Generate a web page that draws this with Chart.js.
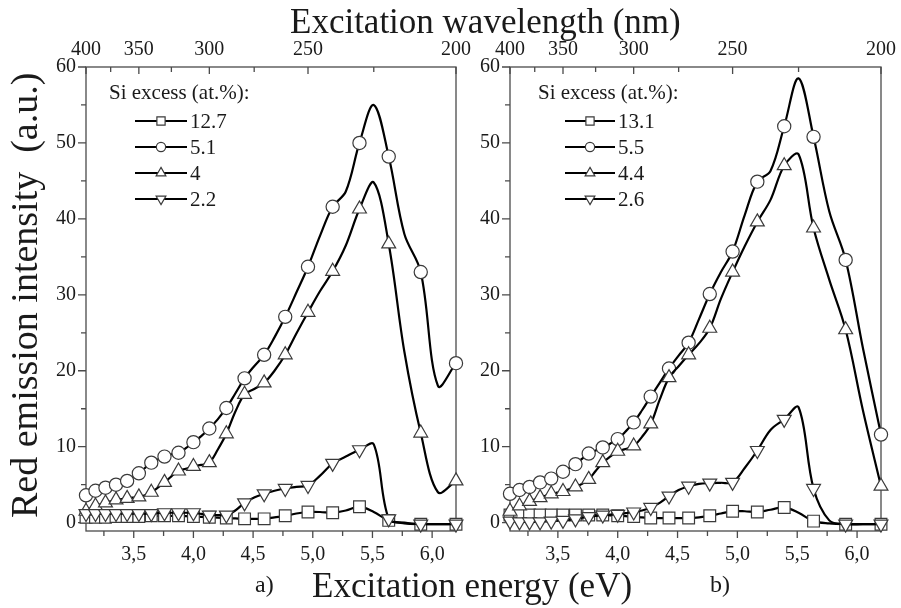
<!DOCTYPE html>
<html>
<head>
<meta charset="utf-8">
<title>Red emission intensity vs excitation energy</title>
<script src="https://cdn.jsdelivr.net/npm/chart.js@4.4.1/dist/chart.umd.min.js"></script>
<style>
    html, body { margin: 0; padding: 0; background: #fff; }
    #page { position: relative; width: 901px; height: 608px; overflow: hidden;
            font-family: "Liberation Serif", "Times New Roman", serif; color: #1a1a1a; }
    #page canvas { position: absolute; top: 0; }
    .label { position: absolute; white-space: pre; line-height: 1; }
</style>
</head>
<body>
<div id="page">
    <canvas id="chartA" width="476" height="608" style="left:0px"></canvas>
    <canvas id="chartB" width="425" height="608" style="left:476px"></canvas>
    <div class="label" style="left:290px; top:4px; font-size:35px;">Excitation wavelength (nm)</div>
    <div class="label" style="left:312px; top:568px; font-size:35px;">Excitation energy (eV)</div>
    <div class="label" style="left:255px; top:572px; font-size:24px;">a)</div>
    <div class="label" style="left:710px; top:572px; font-size:24px;">b)</div>
    <div class="label" style="left:5px; top:518px; font-size:38px; transform-origin:0 0; transform:rotate(-90deg);">Red emission intensity  (a.u.)</div>
</div>

<script>

// =====================
// DATA
// =====================

const WAVELENGTHS_NM = [
    400, 395, 390, 385, 380, 375, 370, 365, 360, 355,
    350, 345, 340, 335, 330, 325, 320, 315, 310, 305,
    300, 295, 290, 285, 280, 275, 270, 265, 260, 255,
    250, 245, 240, 235, 230, 225, 220, 215, 210, 205,
    200
];
const HC_EV_NM = 1240;   // E(eV) = 1240 / lambda(nm)

// panel a)
const SI_A_LABELS = ['12.7', '5.1', '4', '2.2'];
const SI_A_12_7 = [
    0.7, 0.7, 0.7, 0.7, 0.7, 0.75, 0.8, 0.8, 0.8, 0.8,
    0.8, 0.85, 0.9, 0.9, 0.9, 0.9, 0.9, 0.85, 0.8, 0.75,
    0.7, 0.65, 0.6, 0.55, 0.5, 0.5, 0.5, 0.7, 0.9, 1.2,
    1.4, 1.4, 1.3, 1.6, 2.1, 1.4, 0.3, -0.1, -0.2, -0.2,
    -0.2
];
const SI_A_5_1 = [
    3.6, 3.9, 4.2, 4.4, 4.6, 4.8, 5.0, 5.2, 5.5, 6.0,
    6.5, 7.2, 7.9, 8.3, 8.7, 9.0, 9.2, 9.8, 10.6, 11.4,
    12.4, 13.6, 15.1, 17.0, 19.0, 20.6, 22.1, 24.4, 27.1, 30.3,
    33.7, 37.8, 41.6, 43.6, 50.0, 55.0, 48.2, 38.0, 33.0, 18.0,
    21.0
];
const SI_A_4 = [
    1.5, 1.9, 2.2, 2.4, 2.6, 2.8, 3.0, 3.1, 3.2, 3.3,
    3.4, 3.6, 4.0, 4.6, 5.3, 6.1, 6.8, 7.1, 7.4, 7.6,
    7.9, 9.6, 11.7, 14.6, 16.9, 17.6, 18.4, 20.0, 22.1, 24.9,
    27.7, 30.5, 33.1, 36.5, 41.3, 44.8, 36.7, 22.5, 11.8, 4.0,
    5.5
];
const SI_A_2_2 = [
    1.2, 1.2, 1.2, 1.2, 1.2, 1.2, 1.2, 1.2, 1.2, 1.2,
    1.2, 1.2, 1.2, 1.25, 1.3, 1.3, 1.3, 1.3, 1.3, 1.15,
    1.0, 1.0, 1.0, 1.6, 2.6, 3.3, 3.8, 4.2, 4.5, 4.7,
    4.9, 6.2, 7.8, 8.7, 9.6, 10.3, 0.5, 0.0, -0.2, -0.2,
    -0.2
];

// panel b)
const SI_B_LABELS = ['13.1', '5.5', '4.4', '2.6'];
const SI_B_13_1 = [
    1.0, 1.0, 1.0, 1.0, 1.0, 1.0, 1.0, 1.0, 1.0, 1.0,
    1.0, 1.0, 1.0, 1.0, 1.0, 1.0, 1.0, 0.95, 0.9, 0.85,
    0.8, 0.7, 0.6, 0.6, 0.6, 0.6, 0.6, 0.7, 0.9, 1.2,
    1.5, 1.5, 1.4, 1.7, 2.0, 1.3, 0.2, -0.1, -0.2, -0.2,
    -0.2
];
const SI_B_5_5 = [
    3.8, 4.05, 4.3, 4.5, 4.7, 5.0, 5.3, 5.55, 5.8, 6.2,
    6.7, 7.2, 7.7, 8.4, 9.1, 9.5, 9.9, 10.4, 11.0, 12.0,
    13.2, 14.8, 16.6, 18.4, 20.3, 22.0, 23.7, 26.8, 30.1, 33.0,
    35.7, 40.5, 44.9, 46.3, 52.2, 58.5, 50.8, 41.0, 34.6, 23.0,
    11.6
];
const SI_B_4_4 = [
    1.5, 1.9, 2.2, 2.5, 2.8, 3.05, 3.3, 3.55, 3.8, 3.95,
    4.1, 4.4, 4.7, 5.1, 5.7, 6.8, 7.9, 8.7, 9.4, 9.7,
    10.1, 11.3, 13.0, 16.2, 19.1, 20.6, 22.1, 23.6, 25.6, 29.5,
    33.0, 36.4, 39.6, 42.5, 47.0, 48.5, 38.8, 32.0, 25.4, 14.8,
    4.8
];
const SI_B_2_6 = [
    0.2, 0.15, 0.1, 0.1, 0.1, 0.1, 0.1, 0.15, 0.2, 0.25,
    0.3, 0.4, 0.5, 0.65, 0.8, 0.9, 1.0, 1.05, 1.1, 1.25,
    1.4, 1.6, 2.0, 2.6, 3.5, 4.3, 4.8, 5.1, 5.2, 5.25,
    5.3, 7.2, 9.5, 12.2, 13.6, 15.2, 4.5, 0.3, -0.2, -0.2,
    -0.2
];

// axes
const X_MAJOR_EV = [3.5, 4.0, 4.5, 5.0, 5.5, 6.0];
const X_MINOR_EV = [3.25, 3.75, 4.25, 4.75, 5.25, 5.75];
const TOP_MAJOR_NM = [400, 350, 300, 250, 200];
const TOP_MINOR_NM = [375, 325, 275, 225];
const Y_MAJOR = [0, 10, 20, 30, 40, 50, 60];
const Y_MINOR = [5, 15, 25, 35, 45, 55];


// =====================
// STYLE
// =====================

const TEXT_COLOR = '#1a1a1a';
const AXIS_COLOR = '#4a4a4a';
const TICK_FONT = { family: 'Liberation Serif', size: 20 };
const MARKERS = [
    { style: 'rect', rot: 0, r: 8.3 },
    { style: 'circle', rot: 0, r: 6.6 },
    { style: 'triangle', rot: 0, r: 8 },
    { style: 'triangle', rot: 180, r: 8 }
];

const ENERGY_EV = WAVELENGTHS_NM.map(nm => HC_EV_NM / nm);


// =====================
// HELPERS
// =====================

function makeDatasets(labels, seriesList) {
    return seriesList.map((values, k) => ({
        label: labels[k],
        data: values.map((v, i) => ({ x: ENERGY_EV[i], y: v })),
        order: seriesList.length - k,      // later series drawn on top
        borderColor: '#000',
        borderWidth: 2.2,
        tension: 0.35,
        fill: false,
        clip: false,
        pointStyle: MARKERS[k].style,
        pointRotation: MARKERS[k].rot,
        // markers only on the 10 nm steps, the 5 nm points just shape the curve
        pointRadius: ctx => ctx.dataIndex % 2 === 0 ? MARKERS[k].r : 0,
        pointHoverRadius: 0,
        pointBackgroundColor: '#fff',
        pointBorderColor: '#3a3a3a',
        pointBorderWidth: 1.2
    }));
}

function drawMarker(ctx, m, x, y, scale) {
    const r = m.r * scale;
    ctx.beginPath();
    if (m.style === 'rect') {
        const s = r * Math.SQRT1_2;
        ctx.rect(x - s, y - s, 2 * s, 2 * s);
    } else if (m.style === 'circle') {
        ctx.arc(x, y, r, 0, Math.PI * 2);
    } else {
        const dir = m.rot === 180 ? -1 : 1;
        ctx.moveTo(x, y - dir * r);
        ctx.lineTo(x + r * 0.866, y + dir * r / 2);
        ctx.lineTo(x - r * 0.866, y + dir * r / 2);
        ctx.closePath();
    }
    ctx.fillStyle = '#fff';
    ctx.fill();
    ctx.strokeStyle = '#3a3a3a';
    ctx.lineWidth = 1.2;
    ctx.stroke();
}

// box around the plot + long/short tick marks
const framePlugin = {
    id: 'frame',
    beforeDatasetsDraw(chart) {
        const { ctx, chartArea: a, scales } = chart;
        ctx.save();
        ctx.strokeStyle = AXIS_COLOR;
        ctx.lineWidth = 1.3;
        ctx.strokeRect(a.left, a.top, a.right - a.left, a.bottom - a.top);

        ctx.beginPath();
        const mark = (x1, y1, x2, y2) => { ctx.moveTo(x1, y1); ctx.lineTo(x2, y2); };
        X_MAJOR_EV.forEach(v => { const x = scales.x.getPixelForValue(v); mark(x, a.bottom, x, a.bottom + 7); });
        X_MINOR_EV.forEach(v => { const x = scales.x.getPixelForValue(v); mark(x, a.bottom, x, a.bottom + 5); });
        TOP_MAJOR_NM.forEach(nm => { const x = scales.x2.getPixelForValue(HC_EV_NM / nm); mark(x, a.top, x, a.top + 7); });
        TOP_MINOR_NM.forEach(nm => { const x = scales.x2.getPixelForValue(HC_EV_NM / nm); mark(x, a.top, x, a.top + 5); });
        Y_MAJOR.forEach(v => { const y = scales.y.getPixelForValue(v); mark(a.left - 8, y, a.left, y); });
        Y_MINOR.forEach(v => { const y = scales.y.getPixelForValue(v); mark(a.left - 5, y, a.left, y); });
        ctx.stroke();
        ctx.restore();
    }
};

function legendPlugin(labels, pos) {
    return {
        id: 'siLegend',
        afterDatasetsDraw(chart) {
            const ctx = chart.ctx;
            ctx.save();
            ctx.font = '21px "Liberation Serif"';
            ctx.textBaseline = 'middle';
            ctx.fillStyle = TEXT_COLOR;
            ctx.fillText('Si excess (at.%):', pos.titleX, pos.titleY);
            labels.forEach((lab, k) => {
                const y = pos.rowY + k * pos.rowStep;
                ctx.strokeStyle = '#000';
                ctx.lineWidth = 2.2;
                ctx.beginPath();
                ctx.moveTo(pos.lineX1, y);
                ctx.lineTo(pos.lineX2, y);
                ctx.stroke();
                drawMarker(ctx, MARKERS[k], pos.markX, y, 0.7);
                ctx.fillStyle = TEXT_COLOR;
                ctx.fillText(lab, pos.textX, y + 1);
            });
            ctx.restore();
        }
    };
}

function buildPanel(canvasId, labels, seriesList, yWidth, padRight, legendPos) {
    const tickOpts = { autoSkip: false, maxRotation: 0, color: TEXT_COLOR, font: TICK_FONT };

    return new Chart(document.getElementById(canvasId), {
        type: 'line',
        data: { datasets: makeDatasets(labels, seriesList) },
        options: {
            responsive: false,
            maintainAspectRatio: false,
            animation: false,
            events: [],
            layout: { padding: { left: 0, right: padRight, top: 0, bottom: 0 } },
            plugins: { legend: { display: false }, tooltip: { enabled: false } },
            scales: {
                x: {
                    type: 'linear', position: 'bottom', min: 3.1, max: 6.2,
                    grid: { drawOnChartArea: false, drawTicks: false },
                    border: { display: false },
                    afterFit: s => { s.height = 77; },
                    afterBuildTicks: s => { s.ticks = X_MAJOR_EV.map(v => ({ value: v })); },
                    ticks: Object.assign({}, tickOpts, {
                        padding: 12,
                        callback: v => v.toFixed(1).replace('.', ',')
                    })
                },
                x2: {
                    type: 'linear', position: 'top', min: 3.1, max: 6.2,
                    grid: { drawOnChartArea: false, drawTicks: false },
                    border: { display: false },
                    afterFit: s => { s.height = 67; },
                    afterBuildTicks: s => { s.ticks = TOP_MAJOR_NM.map(nm => ({ value: HC_EV_NM / nm })); },
                    ticks: Object.assign({}, tickOpts, {
                        padding: 5,
                        callback: v => String(Math.round(HC_EV_NM / v))
                    })
                },
                y: {
                    type: 'linear', position: 'left', min: -1.1, max: 60,
                    grid: { drawOnChartArea: false, drawTicks: false },
                    border: { display: false },
                    afterFit: s => { s.width = yWidth; },
                    afterBuildTicks: s => { s.ticks = Y_MAJOR.map(v => ({ value: v })); },
                    ticks: Object.assign({}, tickOpts, {
                        padding: 10,
                        callback: v => String(v)
                    })
                }
            }
        },
        plugins: [framePlugin, legendPlugin(labels, legendPos)]
    });
}


// =====================
// CHARTS
// =====================

buildPanel('chartA', SI_A_LABELS, [SI_A_12_7, SI_A_5_1, SI_A_4, SI_A_2_2], 86, 18, {
    titleX: 109, titleY: 93, rowY: 121, rowStep: 26,
    lineX1: 135, lineX2: 187, markX: 161, textX: 190
});

buildPanel('chartB', SI_B_LABELS, [SI_B_13_1, SI_B_5_5, SI_B_4_4, SI_B_2_6], 34, 18, {
    titleX: 62, titleY: 93, rowY: 121, rowStep: 26,
    lineX1: 89, lineX2: 139, markX: 114, textX: 142
});

</script>
</body>
</html>
